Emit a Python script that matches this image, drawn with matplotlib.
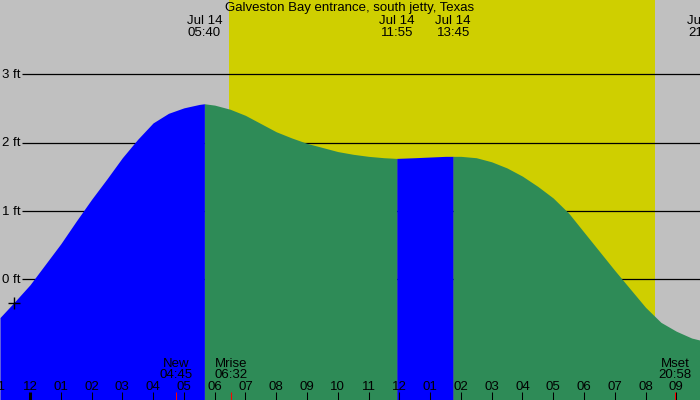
import matplotlib
matplotlib.use("Agg")
import matplotlib.pyplot as plt

# ---- data (hours after midnight Jul 14, height in ft) ----
title = "Galveston Bay entrance, south jetty, Texas"

rise1_h = [-0.975, -0.5, 0.0, 0.5, 1.0, 1.5, 2.0, 2.5, 3.0, 3.5, 4.0, 4.5, 5.0, 5.5, 5.667]
rise1_ft = [-0.56, -0.33, -0.08, 0.22, 0.52, 0.85, 1.17, 1.47, 1.78, 2.05, 2.29, 2.43, 2.51, 2.56, 2.57]

fall1_h = [5.667, 6.0, 6.5, 7.0, 7.5, 8.0, 8.5, 9.0, 9.5, 10.0, 10.5, 11.0, 11.5, 11.917]
fall1_ft = [2.57, 2.55, 2.49, 2.40, 2.28, 2.16, 2.07, 1.99, 1.93, 1.87, 1.83, 1.80, 1.78, 1.77]

rise2_h = [11.917, 12.5, 13.0, 13.5, 13.75]
rise2_ft = [1.77, 1.78, 1.79, 1.80, 1.80]

fall2_h = [13.75, 14.0, 14.5, 15.0, 15.5, 16.0, 16.5, 17.0, 17.5, 18.0, 18.5, 19.0, 19.5, 20.0, 20.5, 21.0, 21.5, 21.77]
fall2_ft = [1.80, 1.80, 1.78, 1.72, 1.63, 1.51, 1.36, 1.19, 0.97, 0.69, 0.41, 0.13, -0.14, -0.41, -0.63, -0.76, -0.86, -0.89]

sunrise_h = 6.47
sunset_h = 20.31

grid_ft = [0, 1, 2, 3]
grid_labels = ["0 ft", "1 ft", "2 ft", "3 ft"]

hour_ticks = list(range(-1, 22))
hour_labels = ["11", "12", "01", "02", "03", "04", "05", "06", "07", "08", "09", "10", "11",
               "12", "01", "02", "03", "04", "05", "06", "07", "08", "09"]

tide_events_h = [5.667, 11.917, 13.75, 21.93]
tide_events_lbl = ["Jul 14\n05:40", "Jul 14\n11:55", "Jul 14\n13:45", "Jul 14\n21:56"]

moon_events_h = [4.75, 6.533, 20.967]
moon_events_lbl = ["New\n04:45", "Mrise\n06:32", "Mset\n20:58"]

plus_h, plus_ft = -0.52, -0.35

# ---- styling ----
GRAY = "#c0c0c0"
YELLOW = "#cfcf00"
BLUE = "#0000ff"
GREEN = "#2e8b57"
FONT = "Liberation Sans"
FS = 9.5

fig = plt.figure(figsize=(7, 4), dpi=100)
ax = fig.add_axes([0, 0, 1, 1])
ax.set_facecolor(GRAY)
XMIN, XMAX = -0.975, 21.77
YMIN, YMAX = -1.767, 4.089
ax.set_xlim(XMIN, XMAX)
ax.set_ylim(YMIN, YMAX)
for s in ax.spines.values():
    s.set_visible(False)
ax.set_xticks([])
ax.set_yticks([])

ax.axvspan(sunrise_h, sunset_h, color=YELLOW, lw=0, zorder=1)

# grid lines with labels
px_per_h = 700 / (XMAX - XMIN)
line_start = XMIN + 22 / px_per_h
for v, lbl in zip(grid_ft, grid_labels):
    ax.plot([line_start, XMAX], [v, v], color="black", lw=0.9, zorder=2, solid_capstyle="butt")
    ax.text(XMIN + 2.5 / px_per_h, v - 0.01, lbl, fontsize=FS, family=FONT, va="center", ha="left", zorder=2)

# tide fills
for hs, fs, col in [(rise1_h, rise1_ft, BLUE), (fall1_h, fall1_ft, GREEN),
                    (rise2_h, rise2_ft, BLUE), (fall2_h, fall2_ft, GREEN)]:
    ax.fill_between(hs, fs, YMIN, color=col, lw=0, zorder=3)

# plus marker
ax.plot([plus_h], [plus_ft], marker="+", color="black", markersize=9, mew=1.0, zorder=5)

# hour ticks and labels
xt = ax.get_xaxis_transform()
for h, lbl in zip(hour_ticks, hour_labels):
    lw = 2.2 if h == 0 else 0.75
    ax.plot([h, h], [0, 0.02], transform=xt, color="black", lw=lw, zorder=6, solid_capstyle="butt")
    ax.text(h, 1 - 387 / 400, lbl, transform=xt, fontsize=FS, family=FONT,
            ha="center", va="center", zorder=6)

# moon events
for h, lbl in zip(moon_events_h, moon_events_lbl):
    ax.plot([h, h], [0, 0.02], transform=xt, color="red", lw=0.75, zorder=7, solid_capstyle="butt")
    ax.text(h, 1 - 369.5 / 400, lbl, transform=xt, fontsize=FS, family=FONT,
            ha="center", va="center", linespacing=0.95, zorder=6)

# tide event labels at top
for h, lbl in zip(tide_events_h, tide_events_lbl):
    ax.text(h, 1 - 27 / 400, lbl, transform=xt, fontsize=FS, family=FONT,
            ha="center", va="center", linespacing=0.95, zorder=6)

ax.text(0.5, 1 - 8 / 400, title, transform=ax.transAxes, fontsize=FS, family=FONT,
        ha="center", va="center", zorder=6)

fig.savefig("out.png", dpi=100)
